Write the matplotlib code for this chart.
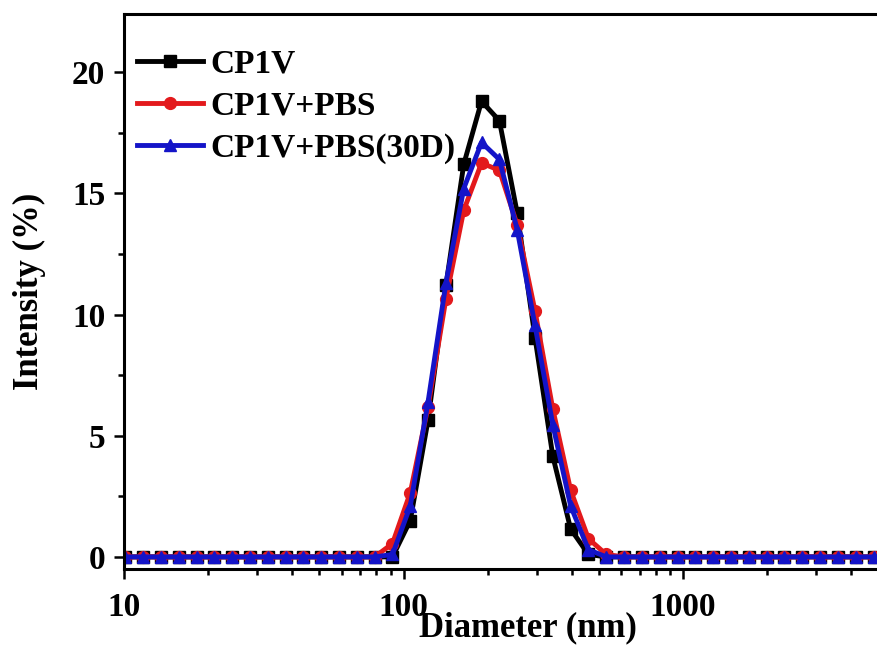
import matplotlib
matplotlib.use("Agg")
import matplotlib.pyplot as plt
from matplotlib.ticker import FixedLocator, NullFormatter, MultipleLocator

# DLS size bins (nm) and intensity distributions (%)
diameter = [10.1, 11.7, 13.54, 15.69, 18.17, 21.04, 24.36, 28.21, 32.67, 37.84,
            43.82, 50.75, 58.77, 68.06, 78.82, 91.28, 105.7, 122.4, 141.8, 164.2,
            190.1, 220.2, 255.0, 295.3, 342.0, 396.1, 458.7, 531.2, 615.1, 712.4,
            825.0, 955.4, 1106, 1281, 1484, 1718, 1990, 2305, 2669, 3091,
            3580, 4145, 4801, 5560]

cp1v = [0, 0, 0, 0, 0, 0, 0, 0, 0, 0,
        0, 0, 0, 0, 0, 0.0, 1.5, 5.65, 11.2, 16.2,
        18.8, 18.0, 14.2, 9.05, 4.15, 1.15, 0.1, 0, 0, 0,
        0, 0, 0, 0, 0, 0, 0, 0, 0, 0,
        0, 0, 0, 0]

cp1v_pbs = [0, 0, 0, 0, 0, 0, 0, 0, 0, 0,
            0, 0, 0, 0, 0, 0.55, 2.65, 6.2, 10.65, 14.3,
            16.25, 15.95, 13.7, 10.15, 6.1, 2.75, 0.75, 0.1, 0, 0,
            0, 0, 0, 0, 0, 0, 0, 0, 0, 0,
            0, 0, 0, 0]

cp1v_pbs_30d = [0, 0, 0, 0, 0, 0, 0, 0, 0, 0,
                0, 0, 0, 0, 0, 0.1, 2.1, 6.4, 11.3, 15.2,
                17.1, 16.4, 13.5, 9.55, 5.45, 2.1, 0.3, 0, 0, 0,
                0, 0, 0, 0, 0, 0, 0, 0, 0, 0,
                0, 0, 0, 0]

labels = ["CP1V", "CP1V+PBS", "CP1V+PBS(30D)"]
x_major = [10, 100, 1000]
x_major_labels = ["10", "100", "1000"]

plt.rcParams["font.family"] = "serif"
plt.rcParams["font.serif"] = ["Liberation Serif", "DejaVu Serif"]
plt.rcParams["font.weight"] = "bold"

fig = plt.figure(figsize=(8.77, 6.45), dpi=100)
ax = fig.add_axes([0.1414, 0.1178, 0.8586, 0.8605])

series = [
    (cp1v, "black", "s"),
    (cp1v_pbs, "#e3191c", "o"),
    (cp1v_pbs_30d, "#1414c8", "^"),
]
for (vals, color, marker), lab in zip(series, labels):
    ax.plot(diameter, vals, color=color, marker=marker, markersize=8.5,
            linewidth=3.5, label=lab)

ax.set_xscale("log")
ax.set_xlim(10, 4940)
ax.set_ylim(-0.5, 22.4)

ax.xaxis.set_major_locator(FixedLocator(x_major))
ax.set_xticklabels(x_major_labels)
minor = [m * d for d in (10, 100, 1000) for m in range(2, 10)]
ax.xaxis.set_minor_locator(FixedLocator(minor))
ax.xaxis.set_minor_formatter(NullFormatter())
ax.yaxis.set_major_locator(MultipleLocator(5))
ax.yaxis.set_minor_locator(MultipleLocator(2.5))

ax.tick_params(which="major", direction="out", length=7.5, width=1.8,
               labelsize=24, top=False, right=False)
ax.tick_params(axis="x", which="major", pad=9)
ax.tick_params(axis="y", which="major", pad=6)
ax.tick_params(which="minor", direction="out", length=4.5, width=1.8,
               top=False, right=False)

for side in ("left", "bottom", "top"):
    ax.spines[side].set_linewidth(2.2)
ax.spines["right"].set_visible(False)

ax.set_xlabel("Diameter (nm)", fontsize=25, fontweight="bold")
ax.set_ylabel("Intensity (%)", fontsize=25, fontweight="bold")
ax.xaxis.set_label_coords(0.537, -0.077)
ax.yaxis.set_label_coords(-0.103, 0.5)

ax.legend(loc="upper left", bbox_to_anchor=(0.017, 0.937), frameon=False,
          borderpad=0, borderaxespad=0, handlelength=2.0, handletextpad=0.2,
          labelspacing=0.33, prop={"size": 24, "weight": "bold"})

fig.savefig("out.png", dpi=100)
